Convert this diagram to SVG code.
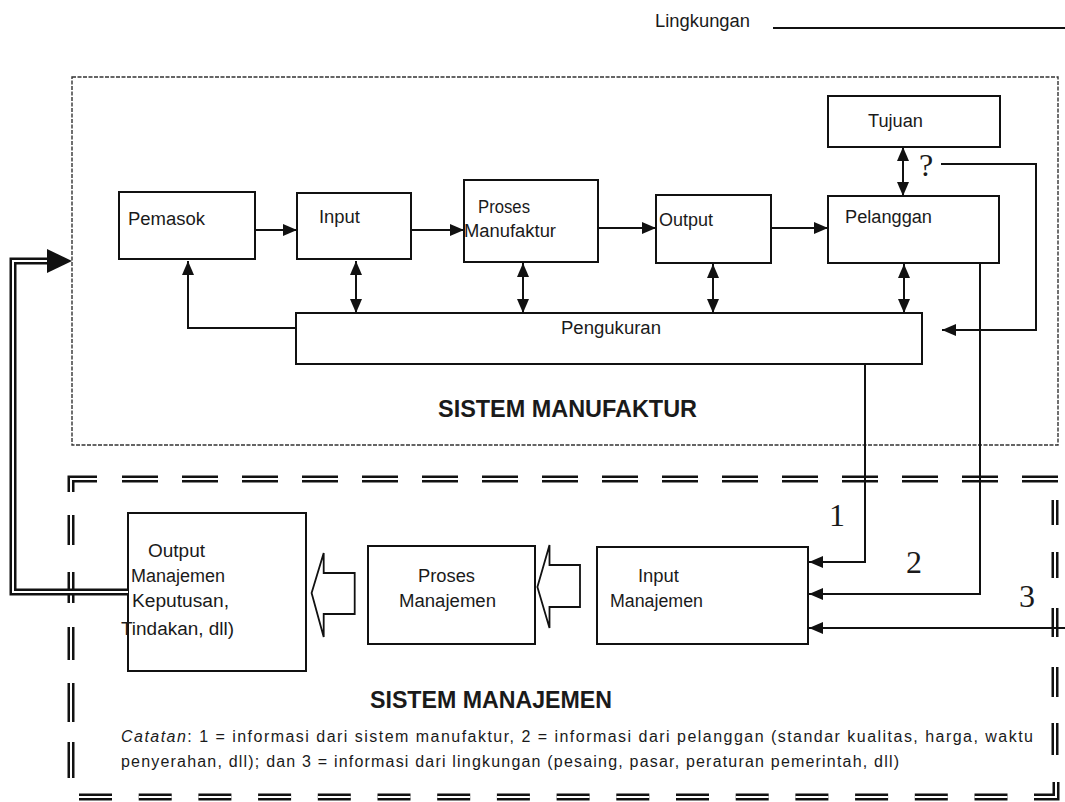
<svg xmlns="http://www.w3.org/2000/svg" width="1065" height="802" viewBox="0 0 1065 802">
<style>
.bx{fill:#fff;stroke:#111;stroke-width:2}
.ln{fill:none;stroke:#111;stroke-width:2}
.t{font-family:"Liberation Sans",Arial,sans-serif;font-size:18px;fill:#1a1a1a}
.h{font-family:"Liberation Sans",Arial,sans-serif;font-size:24px;font-weight:bold;fill:#1a1a1a}
.n{font-family:"Liberation Serif","Times New Roman",serif;font-size:32px;fill:#1a1a1a}
.c{font-family:"Liberation Sans",Arial,sans-serif;font-size:16px;fill:#1a1a1a}
.dbo{fill:none;stroke:#111;stroke-width:7}
.dbi{fill:none;stroke:#fff;stroke-width:2}
.hol{fill:#fff;stroke:#111;stroke-width:1.8;stroke-linejoin:miter}
</style>
<defs>
<marker id="ah" markerUnits="userSpaceOnUse" markerWidth="14" markerHeight="12" refX="14" refY="6" orient="auto-start-reverse">
<path d="M0,0 L14,6 L0,12 z" fill="#111"/>
</marker>
</defs>
<rect width="1065" height="802" fill="#fff"/>

<g id="lingkungan">
<text class="t" x="655" y="27" font-size="15" textLength="95" lengthAdjust="spacingAndGlyphs">Lingkungan</text>
<line x1="773" y1="28" x2="1065" y2="28" stroke="#111" stroke-width="2"/>
</g>

<g id="sistem-manufaktur">
<rect x="72" y="77" width="986" height="368" fill="none" stroke="#333" stroke-width="1.4" stroke-dasharray="4 1.5"/>
<text class="h" x="438" y="417" textLength="259" lengthAdjust="spacingAndGlyphs">SISTEM MANUFAKTUR</text>
</g>

<g id="sistem-manajemen">
<g class="border">
<path class="dbo" d="M122 479 H1058" stroke-dasharray="36 24"/>
<path class="dbi" d="M122 479 H1058" stroke-dasharray="36 24"/>
<path class="dbo" d="M97 479 H71 V492"/>
<path class="dbi" d="M97 479 H71 V492"/>
<path class="dbo" d="M71 515 V545 M71 572 V603 M71 627 V660 M71 683 V722 M71 742 V778"/>
<path class="dbi" d="M71 515 V545 M71 572 V603 M71 627 V660 M71 683 V722 M71 742 V778"/>
<path class="dbo" d="M1055 500 V525 M1055 552 V578 M1055 608 V637 M1055 667 V697 M1055 723 V755"/>
<path class="dbi" d="M1055 500 V525 M1055 552 V578 M1055 608 V637 M1055 667 V697 M1055 723 V755"/>
<path class="dbo" d="M79 797 H1010" stroke-dasharray="33 26.7"/>
<path class="dbi" d="M79 797 H1010" stroke-dasharray="33 26.7"/>
<path class="dbo" d="M1034 797 H1056 V782"/>
<path class="dbi" d="M1034 797 H1056 V782"/>
</g>
<text class="h" x="370" y="708" textLength="242" lengthAdjust="spacingAndGlyphs">SISTEM MANAJEMEN</text>
<text class="c" x="121" y="742" textLength="912" lengthAdjust="spacing"><tspan font-style="italic">Catatan</tspan>: 1 = informasi dari sistem manufaktur, 2 = informasi dari pelanggan (standar kualitas, harga, waktu</text>
<text class="c" x="121" y="767" textLength="778" lengthAdjust="spacing">penyerahan, dll); dan 3 = informasi dari lingkungan (pesaing, pasar, peraturan pemerintah, dll)</text>
</g>

<g id="tujuan">
<rect class="bx" x="828" y="96" width="172" height="51"/>
<text class="t" x="868" y="127" textLength="55" lengthAdjust="spacingAndGlyphs">Tujuan</text>
</g>
<g id="pemasok">
<rect class="bx" x="119" y="192" width="136" height="67"/>
<text class="t" x="128" y="225" textLength="77" lengthAdjust="spacingAndGlyphs">Pemasok</text>
</g>
<g id="input">
<rect class="bx" x="297" y="193" width="114" height="66"/>
<text class="t" x="319" y="223" textLength="41" lengthAdjust="spacingAndGlyphs">Input</text>
</g>
<g id="proses-manufaktur">
<rect class="bx" x="464" y="180" width="134" height="82"/>
<text class="t" x="478" y="213" textLength="52" lengthAdjust="spacingAndGlyphs">Proses</text>
<text class="t" x="464" y="237" textLength="92" lengthAdjust="spacingAndGlyphs">Manufaktur</text>
</g>
<g id="output">
<rect class="bx" x="656" y="195" width="115" height="68"/>
<text class="t" x="659" y="226" textLength="54" lengthAdjust="spacingAndGlyphs">Output</text>
</g>
<g id="pelanggan">
<rect class="bx" x="828" y="196" width="171" height="67"/>
<text class="t" x="845" y="223" textLength="87" lengthAdjust="spacingAndGlyphs">Pelanggan</text>
</g>
<g id="pengukuran">
<rect class="bx" x="296" y="313" width="626" height="51"/>
<text class="t" x="561" y="334" textLength="100" lengthAdjust="spacingAndGlyphs">Pengukuran</text>
</g>
<g id="output-manajemen">
<rect class="bx" x="128" y="513" width="178" height="158"/>
<text class="t" x="148" y="557" textLength="57" lengthAdjust="spacingAndGlyphs">Output</text>
<text class="t" x="131" y="582" textLength="94" lengthAdjust="spacingAndGlyphs">Manajemen</text>
<text class="t" x="132" y="607" textLength="97" lengthAdjust="spacingAndGlyphs">Keputusan,</text>
<text class="t" x="121" y="635" textLength="113" lengthAdjust="spacingAndGlyphs">Tindakan, dll)</text>
</g>
<g id="proses-manajemen">
<rect class="bx" x="368" y="546" width="167" height="98"/>
<text class="t" x="418" y="582" textLength="57" lengthAdjust="spacingAndGlyphs">Proses</text>
<text class="t" x="399" y="607" textLength="97" lengthAdjust="spacingAndGlyphs">Manajemen</text>
</g>
<g id="input-manajemen">
<rect class="bx" x="597" y="547" width="211" height="97"/>
<text class="t" x="638" y="582" textLength="41" lengthAdjust="spacingAndGlyphs">Input</text>
<text class="t" x="610" y="607" textLength="93" lengthAdjust="spacingAndGlyphs">Manajemen</text>
</g>

<g id="connectors">
<path class="ln" d="M255 230 H297" marker-end="url(#ah)"/>
<path class="ln" d="M411 230 H464" marker-end="url(#ah)"/>
<path class="ln" d="M598 228 H656" marker-end="url(#ah)"/>
<path class="ln" d="M771 228 H828" marker-end="url(#ah)"/>
<path class="ln" d="M903 147 V196" marker-start="url(#ah)" marker-end="url(#ah)"/>
<path class="ln" d="M356 261 V313" marker-start="url(#ah)" marker-end="url(#ah)"/>
<path class="ln" d="M523 263 V313" marker-start="url(#ah)" marker-end="url(#ah)"/>
<path class="ln" d="M713 264 V313" marker-start="url(#ah)" marker-end="url(#ah)"/>
<path class="ln" d="M904 264 V313" marker-start="url(#ah)" marker-end="url(#ah)"/>
<path class="ln" d="M296 328 H188 V261" marker-end="url(#ah)"/>
<path class="ln" d="M941 164 H1036 V330 H942" marker-end="url(#ah)"/>
<text class="n" x="919" y="176" font-size="24">?</text>
<path class="ln" d="M865 364 V562 H809" marker-end="url(#ah)"/>
<path class="ln" d="M980 263 V594 H809" marker-end="url(#ah)"/>
<path class="ln" d="M1065 628 H809" marker-end="url(#ah)"/>
<text class="n" x="829" y="526">1</text>
<text class="n" x="906" y="573">2</text>
<text class="n" x="1019" y="607">3</text>
<path class="dbo" d="M128 592 H13 V261 H50"/>
<path class="dbi" d="M128 592 H13 V261 H52"/>
<polygon points="47,249 72,261 47,273" fill="#111"/>
<polygon class="hol" points="311.6,593 323.7,553 323.7,573 354.7,573 354.7,614 323.7,614 323.7,637"/>
<polygon class="hol" points="537.4,587 549.5,545 549.5,565 580,565 580,607 549.5,607 549.5,628"/>
</g>
</svg>
